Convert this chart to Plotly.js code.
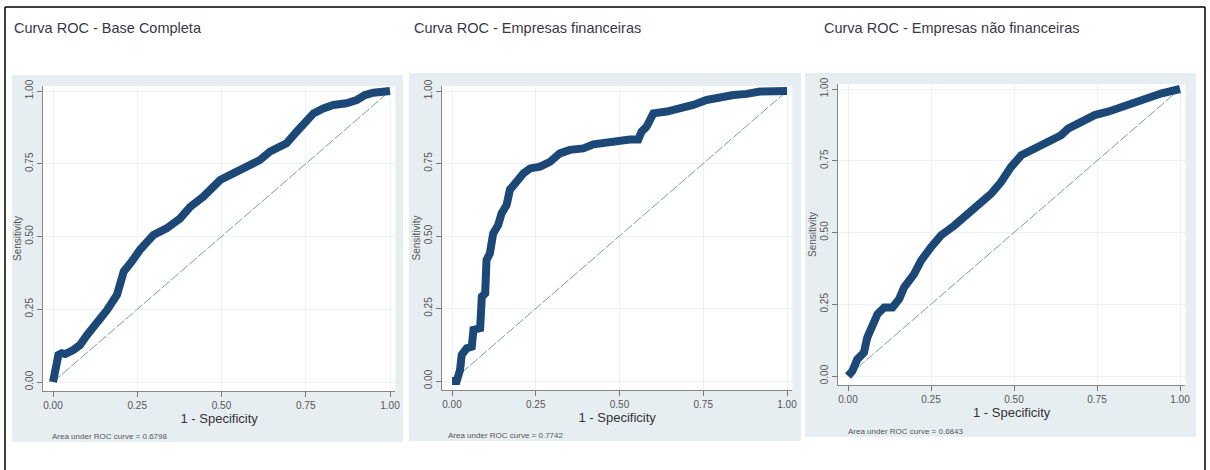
<!DOCTYPE html>
<html>
<head>
<meta charset="utf-8">
<script src="https://cdn.plot.ly/plotly-3.0.1.min.js"></script>
<style>html,body{margin:0;padding:0;background:#fff;}#chart{width:1210px;height:470px;}</style>
</head>
<body>
<div id="chart"></div>
<script>
// ---- Data ----
const panelTitles = ["Curva ROC - Base Completa", "Curva ROC - Empresas financeiras", "Curva ROC - Empresas não financeiras"];
const aucTexts = ["Area under ROC curve = 0.6798", "Area under ROC curve = 0.7742", "Area under ROC curve = 0.6843"];
const tickVals = [0, 0.25, 0.5, 0.75, 1];
const tickText = ["0.00", "0.25", "0.50", "0.75", "1.00"];

const fprBase = [0, 0.006, 0.016, 0.026, 0.036, 0.06, 0.08, 0.1, 0.13, 0.16, 0.19, 0.21, 0.233, 0.258, 0.298, 0.337, 0.377, 0.407, 0.446, 0.476, 0.496, 0.535, 0.575, 0.614, 0.644, 0.693, 0.723, 0.743, 0.773, 0.802, 0.832, 0.871, 0.901, 0.926, 0.951, 1];
const tprBase = [0, 0.04, 0.093, 0.099, 0.096, 0.11, 0.127, 0.16, 0.2, 0.247, 0.3, 0.38, 0.413, 0.454, 0.505, 0.528, 0.562, 0.602, 0.637, 0.666, 0.694, 0.717, 0.74, 0.763, 0.792, 0.82, 0.86, 0.889, 0.923, 0.94, 0.952, 0.958, 0.969, 0.986, 0.994, 1];

const fprFin = [0, 0.014, 0.024, 0.029, 0.044, 0.059, 0.064, 0.084, 0.089, 0.099, 0.103, 0.113, 0.123, 0.138, 0.148, 0.163, 0.173, 0.193, 0.213, 0.233, 0.263, 0.293, 0.322, 0.352, 0.392, 0.422, 0.462, 0.492, 0.531, 0.556, 0.566, 0.581, 0.601, 0.641, 0.681, 0.72, 0.76, 0.8, 0.84, 0.88, 0.919, 1];
const tprFin = [0, 0, 0.038, 0.09, 0.113, 0.118, 0.176, 0.182, 0.291, 0.302, 0.417, 0.44, 0.509, 0.538, 0.578, 0.607, 0.66, 0.693, 0.716, 0.733, 0.739, 0.756, 0.785, 0.797, 0.802, 0.816, 0.822, 0.831, 0.833, 0.833, 0.86, 0.877, 0.923, 0.929, 0.94, 0.952, 0.969, 0.98, 0.986, 0.99, 0.998, 1];

const fprNaoFin = [0, 0.013, 0.028, 0.048, 0.058, 0.074, 0.089, 0.109, 0.134, 0.154, 0.169, 0.199, 0.22, 0.25, 0.28, 0.32, 0.36, 0.4, 0.431, 0.461, 0.491, 0.522, 0.562, 0.602, 0.642, 0.663, 0.703, 0.743, 0.783, 0.824, 0.864, 0.904, 0.945, 1];
const tprNaoFin = [0, 0.017, 0.058, 0.082, 0.134, 0.181, 0.216, 0.239, 0.239, 0.268, 0.309, 0.355, 0.402, 0.449, 0.49, 0.524, 0.565, 0.606, 0.635, 0.676, 0.728, 0.769, 0.793, 0.81, 0.839, 0.862, 0.886, 0.909, 0.921, 0.938, 0.956, 0.973, 0.985, 1];

const refLine = [0, 1];
const xTitle = "1 - Specificity";
const yTitle = "Sensitivity";

// ---- Layout helpers (pixel geometry) ----
const W = 1210, H = 470;
const px = v => v / W;
const py = v => 1 - v / H;
const FONT = "'Liberation Sans Narrow', 'Arial Narrow', 'Liberation Sans', sans-serif";

const geo = [
  {x0: 53, x1: 390, y0: 382, y1: 91, bg: [12, 75, 403, 442], tx: 12, auc: 50},
  {x0: 452, x1: 787, y0: 381, y1: 91, bg: [409, 73, 801, 441], tx: 412, auc: 446},
  {x0: 848, x1: 1180, y0: 376, y1: 89, bg: [805, 73, 1196, 437], tx: 822, auc: 846}
];
const XR = [-0.03, 1.016], YR = [-0.031, 1.017];

const series = [[fprBase, tprBase], [fprFin, tprFin], [fprNaoFin, tprNaoFin]];
const data = [];
const layout = {
  width: W, height: H,
  margin: {l: 0, r: 0, t: 0, b: 0},
  paper_bgcolor: "#ffffff",
  plot_bgcolor: "rgba(0,0,0,0)",
  showlegend: false,
  font: {family: FONT, color: "#555"},
  shapes: [], annotations: []
};

layout.shapes.push({type: "line", xref: "paper", yref: "paper", x0: px(5), x1: px(1205), y0: py(7), y1: py(7), line: {color: "#000", width: 1.5}, layer: "below"});
layout.shapes.push({type: "line", xref: "paper", yref: "paper", x0: px(5), x1: px(5), y0: py(7), y1: 0, line: {color: "#000", width: 1.5}, layer: "below"});
layout.shapes.push({type: "line", xref: "paper", yref: "paper", x0: px(1205), x1: px(1205), y0: py(7), y1: 0, line: {color: "#000", width: 1.5}, layer: "below"});

geo.forEach((g, i) => {
  const n = i === 0 ? "" : String(i + 1);
  const wx = g.x1 - g.x0, wy = g.y0 - g.y1;
  const dl = g.x0 + XR[0] * wx, dr = g.x0 + XR[1] * wx;
  const db = g.y0 - YR[0] * wy, dt = g.y0 - YR[1] * wy;

  layout.shapes.push({type: "rect", xref: "paper", yref: "paper", x0: px(g.bg[0]), x1: px(g.bg[2]), y0: py(g.bg[3]), y1: py(g.bg[1]), fillcolor: "#e7eef1", line: {width: 0}, layer: "below"});
  layout.shapes.push({type: "rect", xref: "paper", yref: "paper", x0: px(dl), x1: px(dr), y0: py(db), y1: py(dt), fillcolor: "#ffffff", line: {width: 0}, layer: "below"});

  layout["xaxis" + n] = {
    domain: [px(dl), px(dr)], range: XR, anchor: "y" + n,
    tickvals: tickVals, ticktext: tickText, ticks: "outside", ticklen: 5, tickcolor: "#777",
    showline: true, linecolor: "#888", linewidth: 1, mirror: false,
    showgrid: true, gridcolor: "#eef1f1", zeroline: false,
    tickfont: {size: 10, color: "#555", family: FONT},
    title: {text: xTitle, font: {size: 13, color: "#333", family: FONT}, standoff: 3},
    fixedrange: true
  };
  layout["yaxis" + n] = {
    domain: [py(db), py(dt)], range: YR, anchor: "x" + n,
    tickvals: tickVals, ticktext: tickText, ticks: "outside", ticklen: 5, tickcolor: "#777",
    tickangle: -90,
    showline: true, linecolor: "#888", linewidth: 1, mirror: false,
    showgrid: true, gridcolor: "#eef1f1", zeroline: false,
    tickfont: {size: 10, color: "#555", family: FONT},
    title: {text: yTitle, font: {size: 10, color: "#555", family: FONT}, standoff: 0},
    fixedrange: true
  };

  data.push({x: refLine, y: refLine, xaxis: "x" + n, yaxis: "y" + n, mode: "lines", type: "scatter",
    line: {color: "#76a092", width: 1, dash: "10px,2px"}, hoverinfo: "skip"});
  data.push({x: series[i][0], y: series[i][1], xaxis: "x" + n, yaxis: "y" + n, mode: "lines", type: "scatter",
    line: {color: "#1c4877", width: 8, shape: "linear"}, hoverinfo: "skip"});

  layout.annotations.push({xref: "paper", yref: "paper", x: px(g.tx), y: py(28), xanchor: "left", yanchor: "middle",
    text: panelTitles[i], showarrow: false, font: {size: 14.5, color: "#3a3848", family: FONT}});
  layout.annotations.push({xref: "paper", yref: "paper", x: px(g.auc), y: py(g.bg[3] - 6), xanchor: "left", yanchor: "middle",
    text: aucTexts[i], showarrow: false, font: {size: 8, color: "#555", family: FONT}});
});

Plotly.newPlot("chart", data, layout, {displayModeBar: false, staticPlot: true});
</script>
</body>
</html>
